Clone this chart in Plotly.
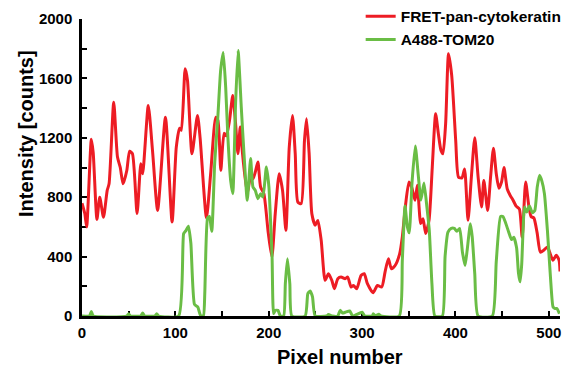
import plotly.graph_objects as go

# ---- data ----
red_x = [0, 3, 5, 10, 12, 16, 19, 23, 27, 29, 34, 38, 41, 44, 48, 51, 54, 59, 63, 65,
         71, 75.5, 81, 89.4, 96.5, 101, 104.5, 106.4, 110.5, 113, 117.8, 123.7, 126.5,
         133.3, 137.8, 143.3, 145.6, 148.7, 152.2, 154.6, 158, 161.5, 164.5, 167, 169.5,
         171.3, 177, 180.6, 183.1, 185.6, 188.4, 191.3, 194.8, 199.5, 203.4, 207, 211.2,
         214.8, 218.4, 222, 225.5, 228.4, 231.2, 234.8, 238.3, 240.5, 243.3, 246.2, 249.8,
         252.6, 256.2, 260.4, 264, 267.6, 270.4, 274, 277.5, 281.8, 284.6, 288.2, 290.7,
         294.3, 298.9, 302.3, 305.7, 311.8, 316.4, 321, 324.6, 328.2, 331.4, 335.4, 340.3,
         343.1, 346.7, 350.3, 353.1, 356.7, 359.2, 362.8, 365.3, 368.1, 371.7, 375.2,
         378.8, 381.7, 384.5, 386.6, 389.5, 392.6, 396, 400.3, 403.3, 407, 409.8, 413.5,
         417, 420.7, 424.3, 428, 430.4, 434.5, 437.7, 440.7, 443.7, 446.6, 449.5, 452,
         455.5, 458.8, 461.3, 465, 468.5, 471.5, 475.2, 478.4, 481, 484, 487.5, 491,
         494.5, 498.5, 502, 504.5, 508, 511, 512]
red_y = [760, 690, 600, 1190, 1100, 650, 800, 665, 846, 890, 1440, 1070, 1000, 890, 980,
         1110, 1093, 690, 1026, 958, 1418, 1115, 711, 1339, 633, 1137, 1265, 1250, 1665,
         1586, 1093, 1351, 1200, 660, 958, 1339, 1317, 981, 1230, 1213, 1317, 1485, 1295,
         1093, 1272, 1137, 824, 935, 924, 969, 1037, 868, 824, 560, 397, 689, 958, 846,
         577, 1137, 1351, 1093, 767, 757, 1182, 1328, 1093, 689, 611, 644, 510, 240, 285,
         240, 184, 251, 262, 251, 262, 195, 206, 184, 273, 285, 218, 157, 206, 195, 296,
         386, 318, 340, 420, 532, 756, 902, 868, 779, 880, 622, 655, 555, 644, 1003, 1362,
         1228, 1115, 1093, 1295, 1766, 1620, 1180, 935, 930, 990, 644, 930, 1200, 935,
         734, 913, 711, 940, 1130, 960, 860, 905, 1000, 855, 810, 785, 740, 720, 530, 902,
         750, 670, 660, 560, 430, 442, 465, 410, 375, 409, 375, 300]

green_x = [0, 8, 10, 12, 48, 50, 52, 63, 65, 67, 78, 80, 82, 103.5, 108.9, 111.5, 114,
           116.6, 120.5, 124, 127, 130, 131.5, 134.5, 136.5, 139, 142.1, 145.5, 148.5,
           151.3, 153.9, 156.3, 159.2, 161.5, 164.5, 167.2, 170.6, 173.5, 177, 180.6,
           183.1, 185.6, 188.4, 191.3, 193.8, 197.5, 200.2, 202.5, 203.6, 205.2, 207,
           209.9, 212.4, 216, 217.8, 220.1, 222.6, 224.8, 239, 241.9, 244.4, 246.9, 249.8,
           262, 264, 268, 274, 276.5, 279, 282, 286.8, 290, 300, 303, 311, 312, 314, 318,
           320, 339.8, 343.1, 346, 348.5, 350.5, 353.5, 357, 360.3, 363, 366.3, 369.5,
           372, 374.8, 378, 386, 388.9, 392, 395.5, 398.8, 401.5, 404.5, 407.5, 410.3,
           412.5, 416, 418, 420.7, 424.3, 439.5, 443.7, 448.3, 450.8, 453.7, 457, 460,
           462.5, 465.5, 467.5, 469.3, 471, 474, 476.3, 479.2, 482.4, 485, 487.6, 490,
           492.6, 495.3, 498.5, 501.8, 504.6, 506.7, 508.7, 511.4]
green_y = [0, 0, 30, 0, 0, 15, 0, 0, 20, 0, 0, 15, 0, 0, 555, 577, 605, 490, 78, 61, 3,
           0, 150, 660, 670, 570, 1026, 1340, 1654, 1775, 1541, 1200, 913, 824, 1429, 1788,
           1407, 1093, 779, 1060, 868, 846, 790, 824, 801, 1003, 870, 560, 400, 16, 38, 38,
           0, 0, 218, 386, 218, 0, 0, 150, 168, 128, 0, 0, 10, 0, 0, 38, 20, 25, 34, 0,
           25, 0, 0, 15, 0, 12, 0, 0, 375, 740, 600, 560, 900, 1145, 940, 780, 895, 730,
           575, 220, 0, 0, 400, 565, 590, 590, 570, 590, 430, 340, 440, 622, 532, 285, 0,
           0, 365, 670, 670, 628, 566, 515, 530, 460, 290, 230, 350, 734, 700, 740, 695,
           710, 868, 947, 908, 824, 578, 260, 60, 50, 50, 15]

x_ticks = [0, 100, 200, 300, 400, 500]
y_ticks = [0, 400, 800, 1200, 1600, 2000]

FONT = "Liberation Sans, Arial, sans-serif"
RED = "#ED1C24"
GREEN = "#6ABD45"

fig = go.Figure()
fig.add_trace(go.Scatter(x=red_x, y=red_y, mode="lines", name="FRET-pan-cytokeratin",
                         line=dict(color=RED, width=3, shape="spline", smoothing=0.6)))
fig.add_trace(go.Scatter(x=green_x, y=green_y, mode="lines", name="A488-TOM20",
                         line=dict(color=GREEN, width=3, shape="spline", smoothing=0.5)))

axis_common = dict(showgrid=False, zeroline=False, showline=True, linecolor="black",
                   linewidth=2.5, ticks="inside", ticklen=5, tickwidth=2, tickcolor="black",
                   tickfont=dict(family=FONT, size=15, color="black", weight="bold"),
                   layer="below traces")

fig.update_layout(
    width=571, height=369,
    margin=dict(l=82, r=11, t=19, b=53, autoexpand=False),
    plot_bgcolor="white", paper_bgcolor="white",
    showlegend=True,
    legend=dict(x=0.583, y=1.065, xanchor="left", yanchor="top",
                font=dict(family=FONT, size=15.5, color="black", weight="bold"),
                bgcolor="rgba(0,0,0,0)", tracegroupgap=0, itemwidth=30),
    xaxis=dict(range=[0, 512], tickvals=x_ticks, ticktext=[str(v) for v in x_ticks],
               minor=dict(ticks="inside", dtick=50, ticklen=5, tickwidth=2, tickcolor="black"),
               ticklabelstandoff=1, **axis_common),
    yaxis=dict(range=[0, 2000], tickvals=y_ticks, ticktext=[str(v) for v in y_ticks],
               minor=dict(ticks="inside", dtick=200, ticklen=5, tickwidth=2, tickcolor="black"),
               ticklabelstandoff=4, **axis_common),
    annotations=[
        dict(text="Pixel number", xref="paper", yref="paper", x=0.54, y=-0.138,
             xanchor="center", yanchor="middle", showarrow=False,
             font=dict(family=FONT, size=20, color="black", weight="bold")),
        dict(text="Intensity [counts]", xref="paper", yref="paper", x=-0.117, y=0.613,
             xanchor="center", yanchor="middle", showarrow=False, textangle=-90,
             font=dict(family=FONT, size=20, color="black", weight="bold")),
    ],
)

fig.write_html("out.html")
